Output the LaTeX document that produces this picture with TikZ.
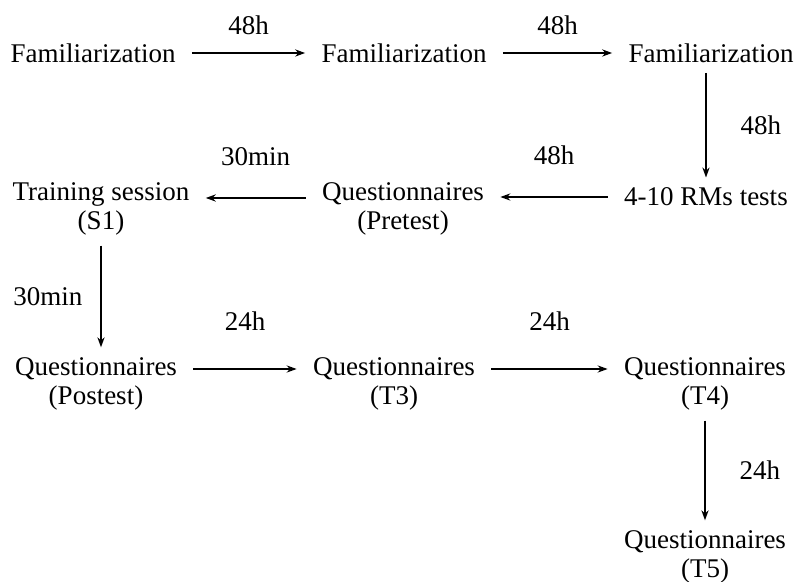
\documentclass[tikz,border=0pt]{standalone}
\usepackage{fontspec}
\setmainfont{Liberation Serif}
\usetikzlibrary{arrows.meta}
\tikzset{
  stage_n/.style = {align=center, inner xsep=8pt, inner ysep=5pt, font=\fontsize{13.5}{14.5}\selectfont},
  delay_l/.style = {inner sep=0pt, font=\fontsize{13.5}{14.5}\selectfont},
  flow_a/.style = {line width=0.7pt, -{Stealth[length=5pt,width=3.6pt]}}
}

\begin{document}
\begin{tikzpicture}[x=0.5pt, y=-0.5pt]
\useasboundingbox (0,0) rectangle (794,582);
\node [stage_n] (f1) at (93,53) {Familiarization};
\node [stage_n] (f2) at (404,53) {Familiarization};
\node [stage_n] (f3) at (711,53) {Familiarization};
\node [stage_n] (rm) at (706,197) {4-10 RMs tests};
\node [stage_n] (pre) at (403,209) {Questionnaires\\(Pretest)};
\node [stage_n] (ts) at (101,209) {Training session\\(S1)};
\node [stage_n] (post) at (96,384) {Questionnaires\\(Postest)};
\node [stage_n] (t3) at (394,384) {Questionnaires\\(T3)};
\node [stage_n] (t4) at (705,384) {Questionnaires\\(T4)};
\node [stage_n] (t5) at (705,557) {Questionnaires\\(T5)};

\draw [flow_a] (f1) -- (f2) node [delay_l, midway, above=9pt] {48h};
\draw [flow_a] (f2) -- (f3) node [delay_l, midway, above=9pt] {48h};
\draw [flow_a] (f3.south -| rm.north) -- (rm.north) node [delay_l, midway, right=17pt] {48h};
\draw [flow_a] (rm.west) -- (rm.west -| pre.east) node [delay_l, midway, above=16pt] {48h};
\draw [flow_a] ([yshift=5.5pt]pre.west) -- ([yshift=5.5pt]ts.east) node [delay_l, midway, above=16pt] {30min};
\draw [flow_a] (ts.south) -- (ts.south |- post.north) node [delay_l, midway, left=9pt] {30min};
\draw [flow_a] ([yshift=7.5pt]post.east) -- ([yshift=7.5pt]t3.west) node [delay_l, midway, above=19pt] {24h};
\draw [flow_a] ([yshift=7.5pt]t3.east) -- ([yshift=7.5pt]t4.west) node [delay_l, midway, above=19pt] {24h};
\draw [flow_a] (t4) -- (t5) node [delay_l, midway, right=17pt] {24h};
\end{tikzpicture}
\end{document}
